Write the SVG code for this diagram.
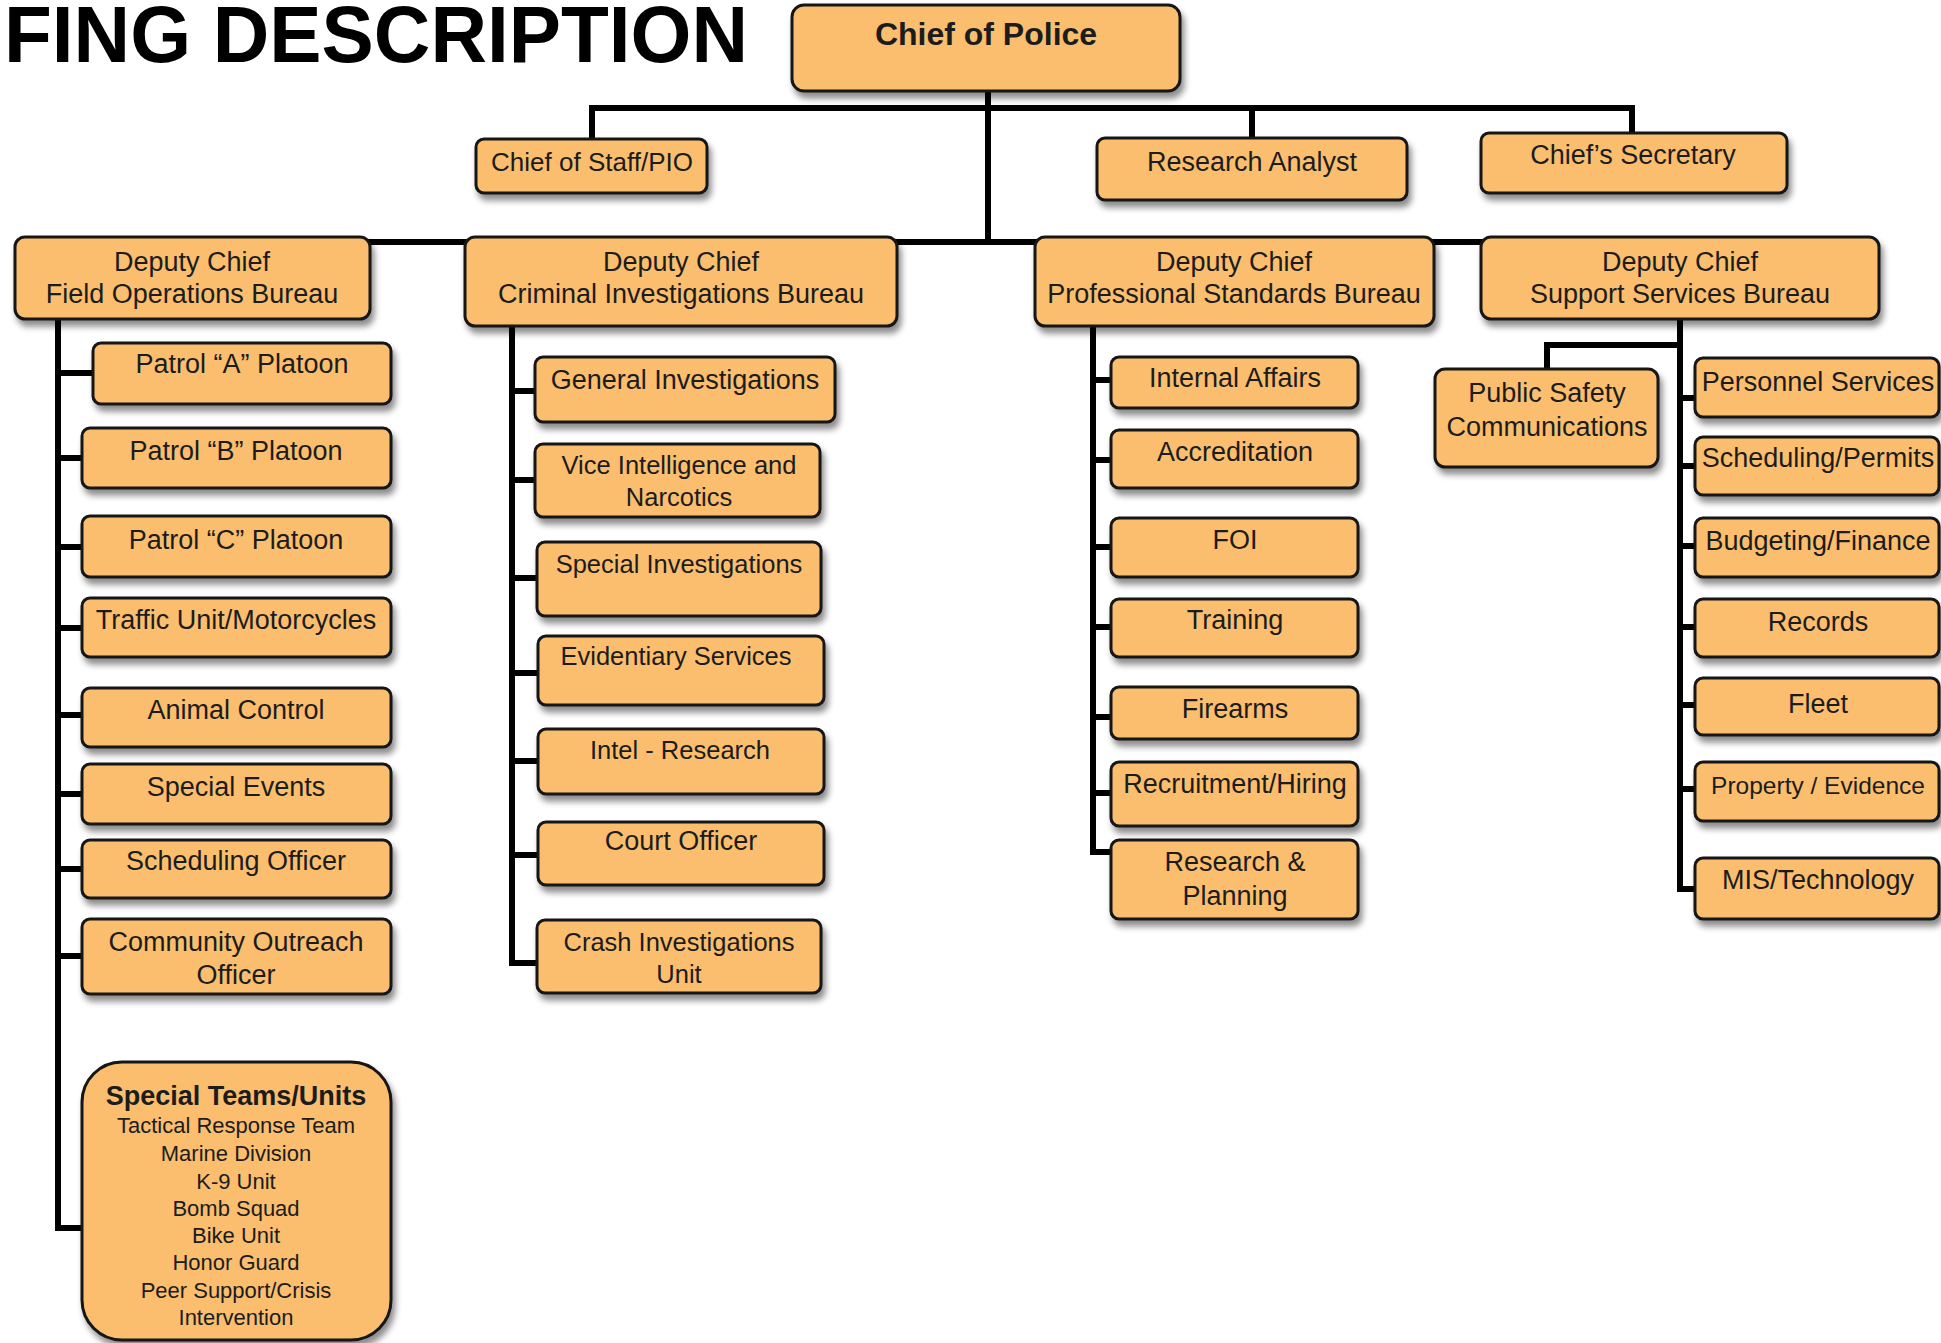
<svg xmlns="http://www.w3.org/2000/svg" width="1941" height="1343" viewBox="0 0 1941 1343">
<defs>
<filter id="sh" x="-10%" y="-10%" width="130%" height="140%">
<feDropShadow dx="3" dy="6" stdDeviation="3" flood-color="#000" flood-opacity="0.45"/>
</filter>
<style>
.box{fill:#FABE6E;stroke:#141414;stroke-width:3;filter:url(#sh)}
.t{font-family:"Liberation Sans",Arial,sans-serif;font-size:27px;fill:#1c1c1c;text-anchor:middle}
.b{font-weight:bold}
.s{font-size:22px}
.m{font-size:25.5px}
.c{stroke:#000;stroke-width:6;fill:none;stroke-linejoin:miter;stroke-linecap:butt}
</style>
</defs>
<rect width="1941" height="1343" fill="#fff"/>
<text x="4" y="62" font-family="Liberation Sans,Arial,sans-serif" font-weight="bold" font-size="80" fill="#000" textLength="744" lengthAdjust="spacingAndGlyphs">FING DESCRIPTION</text>

<g id="connectors">
<path class="c" d="M988,90 V242 M592,139 V108 H1632 V133 M1252,108 V138 M200,242 H1680"/>
<path class="c" d="M58,319 V1228 H85 M58,373 H93 M58,458 H82 M58,547 H82 M58,628 H82 M58,715 H82 M58,794 H82 M58,869 H82 M58,956 H82"/>
<path class="c" d="M512,326 V963 H537 M512,391 H535 M512,480 H535 M512,578 H537 M512,673 H538 M512,761 H538 M512,855 H538"/>
<path class="c" d="M1093,326 V852 H1111 M1093,380 H1111 M1093,460 H1111 M1093,547 H1111 M1093,627 H1111 M1093,717 H1111 M1093,793 H1111"/>
<path class="c" d="M1680,319 V889 H1695 M1680,345 H1547 V369 M1680,398 H1695 M1680,466 H1695 M1680,546 H1695 M1680,627 H1695 M1680,705 H1695 M1680,789 H1695"/>
</g>

<g id="chief"><rect class="box" x="792" y="5" width="388" height="86" rx="12"/><text class="t b" x="986" y="45" style="font-size:32px">Chief of Police</text></g>
<g id="chief-staff"><rect class="box" x="476" y="139" width="231" height="54" rx="8"/><text class="t" x="592" y="171" style="font-size:26px">Chief of Staff/PIO</text></g>
<g id="research-analyst"><rect class="box" x="1097" y="138" width="310" height="62" rx="8"/><text class="t" x="1252" y="171">Research Analyst</text></g>
<g id="chief-secretary"><rect class="box" x="1481" y="133" width="306" height="60" rx="8"/><text class="t" x="1633" y="164">Chief’s Secretary</text></g>

<g id="dc-fob"><rect class="box" x="15" y="237" width="355" height="82" rx="10"/><text class="t" x="192" y="271">Deputy Chief</text><text class="t" x="192" y="303">Field Operations Bureau</text></g>
<g id="dc-cib"><rect class="box" x="465" y="237" width="432" height="89" rx="10"/><text class="t" x="681" y="271">Deputy Chief</text><text class="t" x="681" y="303">Criminal Investigations Bureau</text></g>
<g id="dc-psb"><rect class="box" x="1035" y="237" width="399" height="89" rx="10"/><text class="t" x="1234" y="271">Deputy Chief</text><text class="t" x="1234" y="303">Professional Standards Bureau</text></g>
<g id="dc-ssb"><rect class="box" x="1481" y="237" width="398" height="82" rx="10"/><text class="t" x="1680" y="271">Deputy Chief</text><text class="t" x="1680" y="303">Support Services Bureau</text></g>

<g id="patrol-a"><rect class="box" x="93" y="343" width="298" height="61" rx="8"/><text class="t" x="242" y="373">Patrol “A” Platoon</text></g>
<g id="patrol-b"><rect class="box" x="82" y="428" width="309" height="60" rx="8"/><text class="t" x="236" y="460">Patrol “B” Platoon</text></g>
<g id="patrol-c"><rect class="box" x="82" y="516" width="309" height="61" rx="8"/><text class="t" x="236" y="549">Patrol “C” Platoon</text></g>
<g id="traffic"><rect class="box" x="82" y="598" width="309" height="59" rx="8"/><text class="t" x="236" y="629">Traffic Unit/Motorcycles</text></g>
<g id="animal"><rect class="box" x="82" y="688" width="309" height="59" rx="8"/><text class="t" x="236" y="719">Animal Control</text></g>
<g id="special-events"><rect class="box" x="82" y="764" width="309" height="60" rx="8"/><text class="t" x="236" y="796">Special Events</text></g>
<g id="scheduling-officer"><rect class="box" x="82" y="840" width="309" height="58" rx="8"/><text class="t" x="236" y="870">Scheduling Officer</text></g>
<g id="community"><rect class="box" x="82" y="919" width="309" height="75" rx="8"/><text class="t" x="236" y="951">Community Outreach</text><text class="t" x="236" y="984">Officer</text></g>
<g id="special-teams"><rect class="box" x="82" y="1062" width="309" height="278" rx="40"/>
<text class="t b" x="236" y="1105">Special Teams/Units</text>
<text class="t s" x="236" y="1133">Tactical Response Team</text>
<text class="t s" x="236" y="1161">Marine Division</text>
<text class="t s" x="236" y="1189">K-9 Unit</text>
<text class="t s" x="236" y="1216">Bomb Squad</text>
<text class="t s" x="236" y="1243">Bike Unit</text>
<text class="t s" x="236" y="1270">Honor Guard</text>
<text class="t s" x="236" y="1298">Peer Support/Crisis</text>
<text class="t s" x="236" y="1325">Intervention</text></g>

<g id="general-inv"><rect class="box" x="535" y="357" width="300" height="65" rx="8"/><text class="t" x="685" y="389">General Investigations</text></g>
<g id="vice"><rect class="box" x="535" y="444" width="285" height="73" rx="8"/><text class="t m" x="679" y="474">Vice Intelligence and</text><text class="t m" x="679" y="506">Narcotics</text></g>
<g id="special-inv"><rect class="box" x="537" y="542" width="284" height="74" rx="8"/><text class="t m" x="679" y="573">Special Investigations</text></g>
<g id="evidentiary"><rect class="box" x="538" y="636" width="286" height="69" rx="8"/><text class="t m" x="676" y="665">Evidentiary Services</text></g>
<g id="intel"><rect class="box" x="538" y="729" width="286" height="65" rx="8"/><text class="t m" x="680" y="759">Intel - Research</text></g>
<g id="court"><rect class="box" x="538" y="822" width="286" height="63" rx="8"/><text class="t" x="681" y="850">Court Officer</text></g>
<g id="crash"><rect class="box" x="537" y="920" width="284" height="73" rx="8"/><text class="t m" x="679" y="951">Crash Investigations</text><text class="t m" x="679" y="983">Unit</text></g>

<g id="internal-affairs"><rect class="box" x="1111" y="357" width="247" height="51" rx="8"/><text class="t" x="1235" y="387">Internal Affairs</text></g>
<g id="accreditation"><rect class="box" x="1111" y="430" width="247" height="58" rx="8"/><text class="t" x="1235" y="461">Accreditation</text></g>
<g id="foi"><rect class="box" x="1111" y="518" width="247" height="59" rx="8"/><text class="t" x="1235" y="549">FOI</text></g>
<g id="training"><rect class="box" x="1111" y="599" width="247" height="58" rx="8"/><text class="t" x="1235" y="629">Training</text></g>
<g id="firearms"><rect class="box" x="1111" y="687" width="247" height="52" rx="8"/><text class="t" x="1235" y="718">Firearms</text></g>
<g id="recruitment"><rect class="box" x="1111" y="762" width="247" height="64" rx="8"/><text class="t" x="1235" y="793">Recruitment/Hiring</text></g>
<g id="research-planning"><rect class="box" x="1111" y="840" width="247" height="79" rx="8"/><text class="t" x="1235" y="871">Research &amp;</text><text class="t" x="1235" y="905">Planning</text></g>

<g id="psc"><rect class="box" x="1435" y="369" width="223" height="98" rx="10"/><text class="t" x="1547" y="402">Public Safety</text><text class="t" x="1547" y="436">Communications</text></g>
<g id="personnel"><rect class="box" x="1695" y="358" width="244" height="59" rx="8"/><text class="t" x="1818" y="391">Personnel Services</text></g>
<g id="scheduling-permits"><rect class="box" x="1695" y="437" width="244" height="58" rx="8"/><text class="t" x="1818" y="467">Scheduling/Permits</text></g>
<g id="budgeting"><rect class="box" x="1695" y="518" width="244" height="59" rx="8"/><text class="t" x="1818" y="550">Budgeting/Finance</text></g>
<g id="records"><rect class="box" x="1695" y="599" width="244" height="58" rx="8"/><text class="t" x="1818" y="631">Records</text></g>
<g id="fleet"><rect class="box" x="1695" y="678" width="244" height="57" rx="8"/><text class="t" x="1818" y="713">Fleet</text></g>
<g id="property"><rect class="box" x="1695" y="762" width="244" height="59" rx="8"/><text class="t" x="1818" y="794" style="font-size:24.5px">Property / Evidence</text></g>
<g id="mis"><rect class="box" x="1695" y="858" width="244" height="61" rx="8"/><text class="t" x="1818" y="889">MIS/Technology</text></g>
</svg>
